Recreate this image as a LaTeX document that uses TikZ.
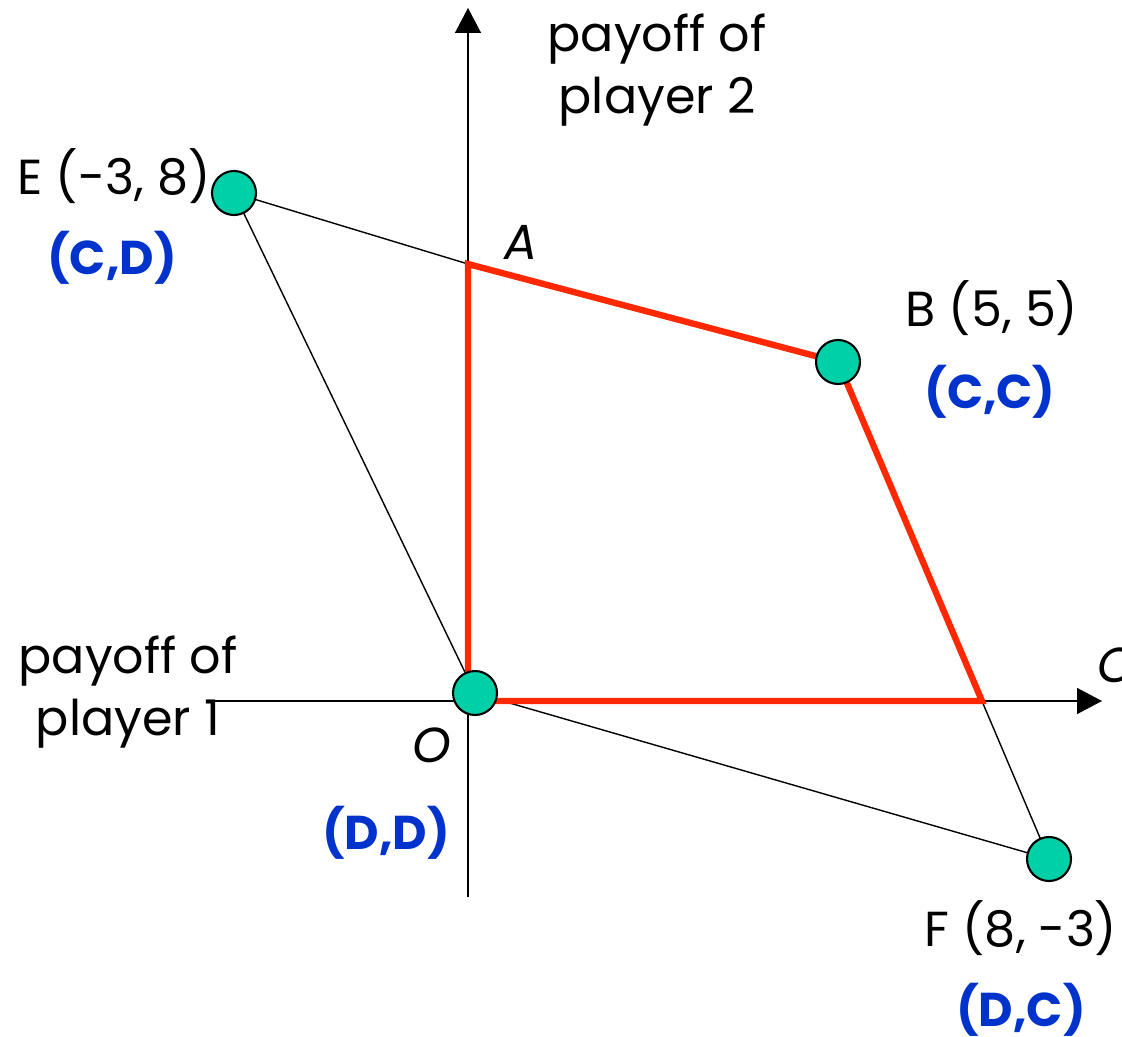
\documentclass[tikz,border=0pt]{standalone}
\usepackage{fontspec}
\setmainfont{Poppins}
\usetikzlibrary{arrows.meta}
\definecolor{redline}{RGB}{255,40,0}
\definecolor{bluelab}{RGB}{0,51,204}
\definecolor{dotfill}{RGB}{0,208,168}
\begin{document}
\begin{tikzpicture}[x=0.02cm,y=-0.02cm,
  lab/.style={font=\fontsize{28}{35}\selectfont, inner sep=0pt},
  strat/.style={font=\fontsize{27}{34}\selectfont\bfseries, text=bluelab, inner sep=0pt},
  dot/.style={circle, draw=black, line width=1.2pt, fill=dotfill, minimum size=0.88cm, inner sep=0pt},
  thin/.style={line width=0.8pt},
  red/.style={draw=redline, line width=3.6pt},
  axis/.style={line width=0.8pt, -{Triangle[length=0.5cm,width=0.52cm]}}]
\useasboundingbox (0,0) rectangle (1122,1037);
% coordinates
\coordinate (Ocen) at (468,701);
\coordinate (A) at (468,264);
\coordinate (C) at (982,701);
\coordinate (xs) at (213,701);
\coordinate (xe) at (1102,701);
\coordinate (ys) at (468,897);
\coordinate (ye) at (468,8);
% axes
\draw[axis] (xs) -- (xe);
\draw[axis] (ys) -- (ye);
% thin lines
\draw[thin] (234,193) coordinate (Ep) -- (A);
\draw[thin] (Ep) -- (475,693) coordinate (Op);
\draw[thin] (Op) -- (1049,859) coordinate (Fp);
\draw[thin] (838,362) coordinate (Bp) -- (Fp);
% red polygon
\draw[red, line join=miter] (Bp) -- (C) -- (Ocen) -- (A) -- (Bp);
% dots
\node[dot] (E) at (Ep) {};
\node[dot] (B) at (Bp) {};
\node[dot] (F) at (Fp) {};
\node[dot] (O) at (Op) {};
% labels
\node[lab, align=center] (ylab) at (657,70) {payoff of\\player 2};
\node[lab, align=center] (xlab) at (128,692) {payoff of\\player 1};
\node[lab] (Elab) at (114,176) {E (-3, 8)};
\node[strat] (Es) at (112,258) {(C,D)};
\node[lab] (Alab) at (521,242) {\itshape A};
\node[lab] (Blab) at (992,308) {B (5, 5)};
\node[strat] (Bs) at (990,392) {(C,C)};
\node[lab, anchor=west] (Clab) at (1097,665) {\itshape C};
\node[lab] (Olab) at (432,745) {\itshape O};
\node[strat] (Os) at (386,833) {(D,D)};
\node[lab] (Flab) at (1021,928) {F (8, -3)};
\node[strat] (Fs) at (1021,1010) {(D,C)};
\end{tikzpicture}
\end{document}
